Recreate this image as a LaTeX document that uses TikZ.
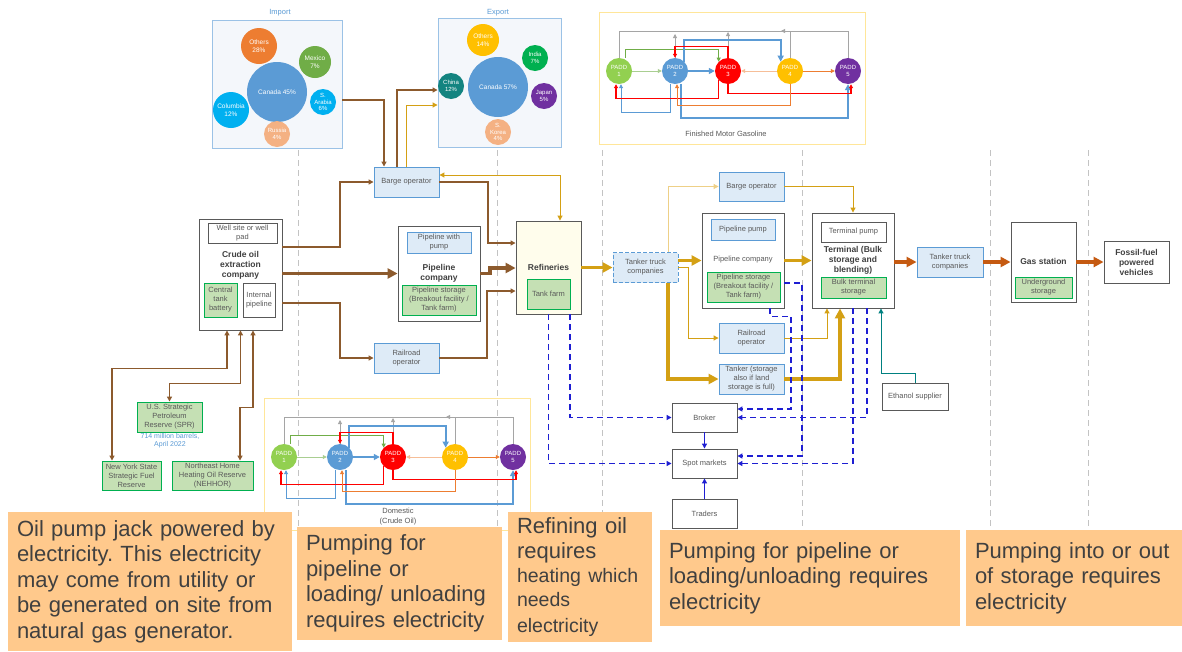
\documentclass[tikz,border=0pt]{standalone}
\usepackage{fontspec}
\setmainfont{Liberation Sans}
\usetikzlibrary{arrows.meta}
\frenchspacing

\definecolor{oilbrown}{RGB}{140,90,45}
\definecolor{fuelgold}{RGB}{212,160,20}
\definecolor{palegold}{RGB}{238,208,135}
\definecolor{fuelorange}{RGB}{197,90,17}
\definecolor{opblue}{RGB}{91,155,213}
\definecolor{opfill}{RGB}{222,235,247}
\definecolor{storegreen}{RGB}{0,176,80}
\definecolor{storefill}{RGB}{197,224,180}
\definecolor{refinefill}{RGB}{255,253,236}
\definecolor{boxgray}{RGB}{89,89,89}
\definecolor{txtgray}{RGB}{89,89,89}
\definecolor{headgray}{RGB}{64,64,64}
\definecolor{tradeblue}{RGB}{30,30,210}
\definecolor{ethteal}{RGB}{0,128,128}
\definecolor{notefill}{RGB}{255,201,140}
\definecolor{notetext}{RGB}{64,64,64}
\definecolor{chartline}{RGB}{155,194,230}
\definecolor{chartfill}{RGB}{244,247,251}
\definecolor{framegold}{RGB}{255,230,153}
\definecolor{dashgray}{RGB}{195,195,195}
\definecolor{padd1}{RGB}{146,208,80}
\definecolor{padd2}{RGB}{91,155,213}
\definecolor{padd3}{RGB}{255,0,0}
\definecolor{padd4}{RGB}{255,192,0}
\definecolor{padd5}{RGB}{112,48,160}
\definecolor{paddgrayln}{RGB}{165,165,165}
\definecolor{paddgreenln}{RGB}{112,173,71}
\definecolor{paddorangeln}{RGB}{237,125,49}
\definecolor{bubOrange}{RGB}{237,125,49}
\definecolor{bubGreen}{RGB}{112,173,71}
\definecolor{bubCyan}{RGB}{0,176,240}
\definecolor{bubSalmon}{RGB}{244,177,131}
\definecolor{bubYellow}{RGB}{255,192,0}
\definecolor{bubIndia}{RGB}{0,176,80}
\definecolor{bubTeal}{RGB}{19,132,128}

\tikzset{
	lbl/.style={font=\fontsize{7.5}{9}\selectfont, text=txtgray, align=center, inner sep=1pt},
	box/.style={lbl, draw=boxgray, fill=white, line width=0.9pt, minimum width=65pt, minimum height=30pt},
	opbox/.style={box, draw=opblue, fill=opfill},
	storebox/.style={box, draw=storegreen, fill=storefill},
	heading/.style={font=\bfseries\fontsize{8.5}{10}\selectfont, text=headgray, align=center, inner sep=0pt},
	oilline/.style={draw=oilbrown, line width=1.3pt},
	oilthick/.style={draw=oilbrown, line width=3.5pt, >={Triangle[length=10pt,width=10pt]}},
	fuelline/.style={draw=fuelgold, line width=1pt},
	fuelthick/.style={draw=fuelgold, line width=3.2pt, >={Triangle[length=10pt,width=10pt]}},
	retailthick/.style={draw=fuelorange, line width=3.2pt, >={Triangle[length=10pt,width=10pt]}},
	ethline/.style={draw=ethteal, line width=1pt},
	tradesolid/.style={draw=tradeblue, line width=1.2pt},
	tradeline/.style={draw=tradeblue, line width=1.2pt, dash pattern=on 6pt off 4pt},
	sepline/.style={draw=dashgray, line width=0.8pt, dash pattern=on 6pt off 4pt},
	chartframe/.style={draw=chartline, line width=0.9pt, fill=chartfill},
	charttitle/.style={font=\fontsize{7.5}{9}\selectfont, text=opblue},
	bubble/.style={circle, inner sep=0pt, text=white, font=\fontsize{6.5}{7.5}\selectfont, align=center},
	smallbubble/.style={bubble, minimum size=26pt, font=\fontsize{6}{6.5}\selectfont},
	padd/.style={circle, minimum size=26pt, inner sep=0pt, text=white, font=\fontsize{6}{7}\selectfont, align=center},
	paddline/.style={line width=0.8pt, >={Triangle[length=4pt,width=4pt]}},
	paddthick/.style={line width=1.8pt, >={Triangle[length=6pt,width=6pt]}},
	note/.style={fill=notefill, text=notetext, font=\fontsize{22}{25.5}\selectfont, align=left, inner xsep=9pt, inner ysep=0pt},
}

\newcommand{\paddnet}[1]{%
	\foreach \i/\x/\clr in {1/0/padd1,2/56/padd2,3/109/padd3,4/171/padd4,5/229/padd5}
		\node[padd, fill=\clr] (#1P\i) at (\x,0) {PADD\\\i};
	\draw[paddline, draw=paddgrayln] (#1P1.north) -- (0,-40) -| (#1P5.north);
	\draw[->, paddline, draw=paddgrayln] (#1P2.north) -- (#1P2.north |- 0,-37);
	\draw[->, paddline, draw=paddgrayln] (#1P3.north) -- (#1P3.north |- 0,-39);
	\draw[->, paddline, draw=paddgrayln] (#1P4.north) |- ([xshift=-9pt]#1P4.north |- 0,-40);
	\draw[->, paddline, draw=paddgreenln] ([xshift=6pt]#1P1.north) -- ++(0,-8) -| (#1P3.north west);
	\draw[->, paddline, draw=paddgreenln!60] (#1P1.east) -- (#1P2.west);
	\draw[->, paddthick, draw=padd2] (#1P2.east) -- (#1P3.west);
	\draw[->, paddthick, draw=padd2] (#1P2.north east) -- ++(0,-22) -| (#1P4.north west);
	\draw[->, paddthick, draw=padd2] ([xshift=6pt]#1P2.south) -- ++(0,34) -| (#1P5.south);
	\draw[->, paddline, draw=padd2] ([xshift=-5pt]#1P2.south) -- ++(0,28) -| ([xshift=2pt]#1P1.south);
	\draw[->, paddline, line width=1.2pt, draw=padd3] (#1P3.north) -- ++(0,-11) -| (#1P2.north);
	\draw[->, paddline, line width=1.2pt, draw=padd3] (#1P3.south west) -- ++(0,18) -| ([xshift=-3pt]#1P1.south);
	\draw[->, paddline, line width=1.2pt, draw=padd3] (#1P3.south) -- ++(0,9) -| ([xshift=3pt]#1P5.south);
	\draw[->, paddline, draw=paddorangeln!50] (#1P4.west) -- (#1P3.east);
	\draw[->, paddline, draw=paddorangeln] (#1P4.east) -- (#1P5.west);
	\draw[->, paddline, draw=paddorangeln] (#1P4.south) -- ++(0,21) -| ([xshift=2pt]#1P2.south);
}

\begin{document}
\begin{tikzpicture}[x=1pt, y=-1pt, >={Triangle[length=5pt,width=5pt]}]
	\useasboundingbox[fill=white] (0,0) rectangle (1182,651);

	\node[chartframe, draw=framegold, fill=white, minimum width=266pt, minimum height=132pt] (GasolineBox) at (732,78) {};
	\node[lbl] (GasolineTitle) at (726,134) {Finished Motor Gasoline};
	\node[chartframe, draw=framegold, fill=white, minimum width=266pt, minimum height=132pt] (DomesticBox) at (397,464) {};
	\node[lbl, font=\fontsize{7.5}{10}\selectfont] (DomesticTitle) at (398,517) {Domestic\\(Crude Oil)};

	\node[chartframe, minimum width=130pt, minimum height=128pt] (ImportBox) at (277,84) {};
	\node[charttitle] (ImportTitle) at (280,13) {Import};
	\node[bubble, fill=padd2, minimum size=60pt] (ImCanada) at (277,92) {Canada 45\%};
	\node[bubble, fill=bubOrange, minimum size=36pt] (ImOthers) at (259,46) {Others\\28\%};
	\node[bubble, fill=bubGreen, minimum size=32pt] (ImMexico) at (315,62) {Mexico\\7\%};
	\node[smallbubble, fill=bubCyan] (ImArabia) at (323,102) {S.\\Arabia\\6\%};
	\node[bubble, fill=bubCyan, minimum size=36pt] (ImColumbia) at (231,110) {Columbia\\12\%};
	\node[smallbubble, fill=bubSalmon] (ImRussia) at (277,134) {Russia\\4\%};

	\node[chartframe, minimum width=123pt, minimum height=129pt] (ExportBox) at (499.5,82.5) {};
	\node[charttitle] (ExportTitle) at (498,13) {Export};
	\node[bubble, fill=padd2, minimum size=60pt] (ExCanada) at (498,87) {Canada 57\%};
	\node[bubble, fill=bubYellow, minimum size=32pt] (ExOthers) at (483,40) {Others\\14\%};
	\node[smallbubble, fill=bubIndia] (ExIndia) at (535,58) {India\\7\%};
	\node[smallbubble, fill=padd5] (ExJapan) at (544,96) {Japan\\5\%};
	\node[smallbubble, fill=bubTeal] (ExChina) at (451,86) {China\\12\%};
	\node[smallbubble, fill=bubSalmon] (ExKorea) at (498,132) {S.\\Korea\\4\%};

	\foreach \x in {298,497,602,802,990,1088}
		\draw[sepline] (\x,150) -- (\x,545);

	\begin{scope}[shift={(619,71)}]
		\paddnet{Gas}
	\end{scope}
	\begin{scope}[shift={(284,457)}]
		\paddnet{Crude}
	\end{scope}

	\node[box, minimum width=83pt, minimum height=111pt] (CrudeOil) at (240.5,274.5) {};
	\node[box, minimum width=69pt, minimum height=20pt] (WellSite) at (242.5,233) {Well site or well\\pad};
	\node[heading] (CrudeOilLabel) at (240.5,265) {Crude oil\\extraction\\company};
	\node[storebox, minimum width=33pt, minimum height=34pt] (CentralTank) at (220.5,300) {Central\\tank\\battery};
	\node[box, minimum width=32pt, minimum height=34pt] (InternalPipe) at (259,300) {Internal\\pipeline};

	\node[storebox] (SPR) at (169.5,417) {U.S. Strategic\\Petroleum\\Reserve (SPR)};
	\node[lbl, text=opblue, font=\fontsize{7}{8}\selectfont] (SPRNote) at (170,441) {714 million barrels,\\April 2022};
	\node[storebox, minimum width=59pt, minimum height=29pt] (NYState) at (131.5,475.5) {New York State\\Strategic Fuel\\Reserve};
	\node[storebox, minimum width=81pt, minimum height=29pt] (NEHHOR) at (212.5,475.5) {Northeast Home\\Heating Oil Reserve\\(NEHHOR)};

	\node[opbox] (BargeL) at (406.5,182) {Barge operator};
	\node[box, minimum width=82pt, minimum height=95pt] (PipeCoL) at (439,273.5) {};
	\node[opbox, minimum width=64pt, minimum height=21pt] (PipePumpL) at (439,242.5) {Pipeline with\\pump};
	\node[heading] (PipeCoLLabel) at (439,273) {Pipeline\\company};
	\node[storebox, minimum width=74pt, minimum height=30pt] (PipeStoreL) at (439,300) {Pipeline storage\\(Breakout facility /\\Tank farm)};
	\node[opbox] (RailL) at (406.5,358) {Railroad\\operator};

	\node[box, fill=refinefill, minimum width=65pt, minimum height=93pt] (Refineries) at (548.5,267.5) {};
	\node[heading] (RefineriesLabel) at (548.5,267) {Refineries};
	\node[storebox, minimum width=43pt, minimum height=30pt] (TankFarm) at (548.5,294) {Tank farm};

	\node[opbox, dashed, dash pattern=on 4pt off 2pt] (TankerTruckM) at (645.5,267.5) {Tanker truck\\companies};

	\node[opbox, minimum height=29pt] (BargeR) at (751.5,186.5) {Barge operator};
	\node[box, minimum width=82pt, minimum height=95pt] (PipeCoR) at (743,260.5) {};
	\node[opbox, minimum width=64pt, minimum height=21pt] (PipePumpR) at (743,229.5) {Pipeline pump};
	\node[lbl] (PipeCoRLabel) at (743,260) {Pipeline company};
	\node[storebox, minimum width=73pt, minimum height=30pt] (PipeStoreR) at (743.5,287) {Pipeline storage\\(Breakout facility /\\Tank farm)};
	\node[opbox] (RailR) at (751.5,338) {Railroad\\operator};
	\node[opbox] (TankerR) at (751.5,379) {Tanker (storage\\also if land\\storage is full)};

	\node[box, minimum width=82pt, minimum height=95pt] (Terminal) at (853,260.5) {};
	\node[box, minimum width=65pt, minimum height=20pt] (TermPump) at (853.5,232) {Terminal pump};
	\node[heading] (TerminalLabel) at (853,260) {Terminal (Bulk\\storage and\\blending)};
	\node[storebox, minimum width=65pt, minimum height=21pt] (BulkStore) at (853.5,287.5) {Bulk terminal\\storage};
	\node[box, minimum width=66pt, minimum height=27pt] (Ethanol) at (915,396.5) {Ethanol supplier};

	\node[box, minimum height=29pt] (Broker) at (704.5,417.5) {Broker};
	\node[box, minimum height=29pt] (Spot) at (704.5,463.5) {Spot markets};
	\node[box, minimum height=29pt] (Traders) at (704.5,513.5) {Traders};

	\node[opbox, minimum width=66pt] (TankerTruckR) at (950,262) {Tanker truck\\companies};
	\node[box, minimum width=65pt, minimum height=80pt] (GasStation) at (1043.5,262) {};
	\node[heading] (GasStationLabel) at (1043.5,261) {Gas station};
	\node[storebox, minimum width=57pt, minimum height=21pt] (UndergroundStore) at (1043.5,287.5) {Underground\\storage};
	\node[box, minimum height=42pt, font=\bfseries\fontsize{8.5}{10}\selectfont, text=headgray] (Fossil) at (1136.5,262) {Fossil-fuel\\powered\\vehicles};

	\draw[->,oilline] (CrudeOil.east |- 0,247) -- (340,247) |- (BargeL.west);
	\draw[->,oilthick] (CrudeOil.east |- PipeCoL.west) -- (PipeCoL.west);
	\draw[->,oilline] (CrudeOil.east |- 0,303) -- (340,303) |- (RailL.west);
	\draw[->,oilline] (ImportBox.east |- 0,100) -| ([xshift=-22.5pt]BargeL.north);
	\draw[->,oilline] ([xshift=-9.5pt]BargeL.north) |- (ExportBox.west |- 0,90);
	\draw[->,fuelline] (BargeL.north) |- (ExportBox.west |- 0,105);
	\draw[->,oilline] (BargeL.east) -- (488,182) |- (Refineries.west |- 0,243);
	\draw[->,oilthick] (PipeCoL.east) -- (490,273.5) |- (Refineries.west |- 0,268);
	\draw[->,oilline] (RailL.east) -- (487,358) |- (Refineries.west |- 0,291);

	\draw[<->,oilline] ([xshift=-13.5pt]CrudeOil.south) -- ++(0,38) -| ([xshift=-19.5pt]NYState.north);
	\draw[<->,oilline] (CrudeOil.south) -- ++(0,53) -| (SPR.north);
	\draw[<->,oilline] ([xshift=12.5pt]CrudeOil.south) -- ++(0,77) -| ([xshift=27.5pt]NEHHOR.north);

	\draw[<->,fuelline] (BargeL.east |- 0,175) -| ([xshift=11.5pt]Refineries.north);
	\draw[->,fuelthick] (Refineries.east) -- (TankerTruckM.west);
	\draw[->,fuelthick] (TankerTruckM.east |- PipeCoR.west) -- (PipeCoR.west);
	\draw[->,fuelline] (TankerTruckM.east) -- (688,267.5) |- (RailR.west);
	\draw[->,fuelline,draw=palegold] ([xshift=22.5pt]TankerTruckM.north) |- (BargeR.west);
	\draw[->,fuelthick] ([xshift=22.5pt]TankerTruckM.south) |- (TankerR.west);
	\draw[->,fuelline] (BargeR.east) -| (Terminal.north);
	\draw[->,fuelthick] (PipeCoR.east) -- (Terminal.west);
	\draw[->,fuelline] (RailR.east) -| ([xshift=-26pt]Terminal.south);
	\draw[->,fuelthick] (TankerR.east) -| ([xshift=-13pt]Terminal.south);

	\draw[->,retailthick] (Terminal.east |- TankerTruckR.west) -- (TankerTruckR.west);
	\draw[->,retailthick] (TankerTruckR.east) -- (GasStation.west);
	\draw[->,retailthick] (GasStation.east) -- (Fossil.west);
	\draw[->,ethline] (Ethanol.north) -- ++(0,-9) -| ([xshift=28pt]Terminal.south);

	\draw[->,tradesolid] (Broker.south) -- (Spot.north);
	\draw[->,tradesolid] (Traders.north) -- (Spot.south);
	\draw[->,tradeline] (Refineries.south) |- (Spot.west);
	\draw[->,tradeline] ([xshift=21.5pt]Refineries.south) |- (Broker.west);
	\draw[->,tradeline] ([xshift=27pt]PipeCoR.south) -- ++(0,8) -| (791,409) -- (Broker.east |- 0,409);
	\draw[->,tradeline] (PipeCoR.east |- 0,283) -| (802,456) -- (Spot.east |- 0,456);
	\draw[->,tradeline] ([xshift=14pt]Terminal.south) |- (Broker.east);
	\draw[->,tradeline] (Terminal.south) |- (Spot.east);

	\node[note, text width=266pt, minimum width=284pt, minimum height=139pt] (NoteWell) at (150,581.5) {Oil pump jack powered by\\electricity. This electricity\\may come from utility or\\be generated on site from\\natural gas generator.};
	\node[note, text width=187pt, minimum width=205pt, minimum height=113pt] (NotePipeline) at (399.5,583.5) {Pumping for\\pipeline or\\loading/ unloading\\requires electricity};
	\node[note, text width=126pt, minimum width=144pt, minimum height=130pt] (NoteRefining) at (580,577) {Refining oil\\requires\par\fontsize{19.5}{24}\selectfont heating which\\needs\\electricity};
	\node[note, text width=282pt, minimum width=300pt, minimum height=96pt] (NoteTransfer) at (810,578) {Pumping for pipeline or\\loading/unloading requires\\electricity};
	\node[note, text width=198pt, minimum width=216pt, minimum height=96pt] (NoteStorage) at (1074,578) {Pumping into or out\\of storage requires\\electricity};
\end{tikzpicture}
\end{document}
